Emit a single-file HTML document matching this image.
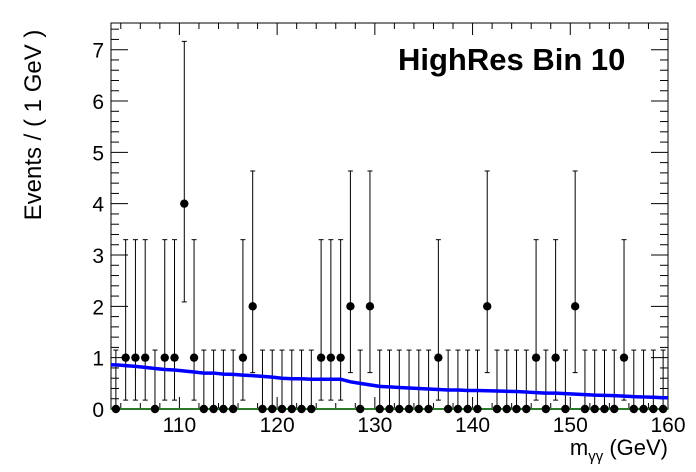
<!DOCTYPE html>
<html><head><meta charset="utf-8"><style>
html,body{margin:0;padding:0;background:#fff;}
svg{display:block;font-family:"Liberation Sans",sans-serif;}
</style></head><body>
<svg id="c" width="696" height="472" viewBox="0 0 696 472"></svg>
<script>
const binCenters = [];
for (let v = 103.5; v < 160; v += 1) binCenters.push(v);
const counts = [0,1,1,1,0,1,1,4,1,0,0,0,0,1,2,0,0,0,0,0,0,1,1,1,2,0,2,0,0,0,0,0,0,1,0,0,0,0,2,0,0,0,0,1,0,1,0,2,0,0,0,0,1,0,0,0,0];
const fitValues = [0.86,0.845,0.83,0.81,0.79,0.77,0.76,0.74,0.72,0.70,0.70,0.68,0.675,0.66,0.65,0.635,0.62,0.60,0.59,0.59,0.58,0.58,0.58,0.58,0.53,0.50,0.47,0.44,0.43,0.42,0.41,0.40,0.39,0.38,0.37,0.37,0.36,0.36,0.355,0.35,0.345,0.34,0.33,0.32,0.31,0.31,0.30,0.29,0.28,0.27,0.265,0.26,0.25,0.24,0.235,0.23,0.22];
const xTicks = [110,120,130,140,150,160];
const yTicks = [0,1,2,3,4,5,6,7];
const errLow = {0:0,1:0.827,2:1.291,3:1.633,4:1.914};
const errHigh = {0:1.148,1:2.299,2:2.637,3:2.918,4:3.162};

const L=111,R=668,T=23,B=409, XMIN=103,XMAX=160,YMIN=0,YMAX=7.52;
const sx=v=>L+(v-XMIN)/(XMAX-XMIN)*(R-L);
const sy=v=>B-(v-YMIN)/(YMAX-YMIN)*(B-T);
const svg=document.getElementById('c');
const NS='http://www.w3.org/2000/svg';
function mk(tag,attrs,parent){const e=document.createElementNS(NS,tag);for(const k in attrs)e.setAttribute(k,attrs[k]);(parent||svg).appendChild(e);return e;}

const frame=mk('rect',{x:L,y:T,width:R-L,height:B-T,fill:'none',stroke:'#000','stroke-width':1});



const gx=mk('g',{});


for(let v=104;v<=160;v+=2){
  const major=v%10===0, len=major?12:6, x=sx(v);
  mk('line',{x1:x,y1:B,x2:x,y2:B-len,stroke:'#000'},gx);
  mk('line',{x1:x,y1:T,x2:x,y2:T+len,stroke:'#000'},gx);
}
xTicks.forEach(v=>{
  const t=mk('text',{x:sx(v),y:432,'font-size':21,'text-anchor':'middle'},gx);
  t.textContent=v;
  
  
});
const gy=mk('g',{});


for(let i=0;i<=37;i++){
  const v=i*0.2; if(v>YMAX)break;
  const major=i%5===0, len=major?17:8, y=sy(v);
  mk('line',{x1:L,y1:y,x2:L+len,y2:y,stroke:'#000'},gy);
  mk('line',{x1:R,y1:y,x2:R-len,y2:y,stroke:'#000'},gy);
}
yTicks.forEach(v=>{
  const t=mk('text',{x:104,y:sy(v)+8,'font-size':21,'text-anchor':'end'},gy);
  t.textContent=v;
  
  
});

const zl=mk('line',{x1:L,y1:B,x2:R,y2:B,stroke:'#2a7a2a','stroke-width':2});



const gd=mk('g',{});


binCenters.forEach((v,i)=>{
  const n=counts[i], x=sx(v);
  const lo=n-(errLow[n]!==undefined?errLow[n]:Math.sqrt(n)), hi=n+(errHigh[n]!==undefined?errHigh[n]:Math.sqrt(n));
  const g=mk('g',{},gd);
  
  
  mk('line',{x1:x,y1:sy(lo),x2:x,y2:sy(hi),stroke:'#000','stroke-width':1},g);
  mk('line',{x1:x-2.5,y1:sy(hi),x2:x+2.5,y2:sy(hi),stroke:'#000'},g);
  if(n>0) mk('line',{x1:x-2.5,y1:sy(lo),x2:x+2.5,y2:sy(lo),stroke:'#000'},g);
  mk('circle',{cx:x,cy:sy(n),r:4.2,fill:'#000'},g);
});

let pts=[[sx(XMIN),sy(fitValues[0])]];
binCenters.forEach((v,i)=>pts.push([sx(v),sy(fitValues[i])]));
pts.push([sx(XMAX),sy(fitValues[fitValues.length-1])]);
const fc=mk('polyline',{points:pts.map(p=>p.join(',')).join(' '),fill:'none',stroke:'#0000ff','stroke-width':3.5});



const tt=mk('text',{x:398,y:70,'font-size':31,'font-weight':'bold'});
tt.textContent='HighRes Bin 10';



const xt=mk('text',{x:668,y:455,'font-size':22,'text-anchor':'end'});
xt.innerHTML='m<tspan font-size="15" dy="6">γγ</tspan><tspan dy="-6"> (GeV)</tspan>';



const yt=mk('text',{x:0,y:0,'font-size':24,'text-anchor':'middle',transform:'translate(41,125) rotate(-90)'});
yt.textContent='Events / ( 1 GeV )';


</script>
</body></html>
